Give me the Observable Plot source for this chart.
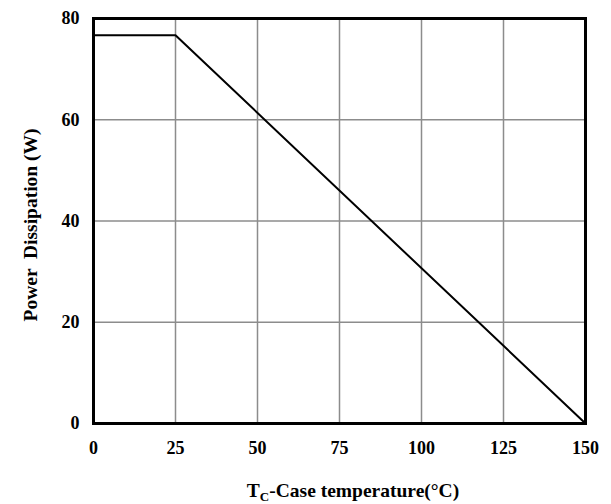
<!DOCTYPE html>
<html>
<head>
<meta charset="utf-8">
<script src="https://cdn.jsdelivr.net/npm/d3@7"></script>
<script src="https://cdn.jsdelivr.net/npm/@observablehq/plot@0.6"></script>
<style>
  html, body { margin: 0; padding: 0; background: #fff; }
  #chart svg { display: block; }
</style>
</head>
<body>
<div id="chart"></div>
<script>
const temperature = [0, 25, 150];
const power = [76.7, 76.7, 0];
const xTicks = [0, 25, 50, 75, 100, 125, 150];
const yTicks = [0, 20, 40, 60, 80];

const data = temperature.map((t, i) => ({t, p: power[i]}));
const W = 611, H = 504;
const mL = 93, mR = 26, mT = 18, mB = 81;
const font = "'Liberation Serif', 'Times New Roman', serif";

const chart = Plot.plot({
  width: W, height: H,
  marginLeft: mL, marginRight: mR, marginTop: mT, marginBottom: mB,
  style: {fontFamily: font, fontSize: "18px", fontWeight: "bold", color: "#000", background: "transparent"},
  x: {domain: [0, 150], ticks: xTicks, label: null},
  y: {domain: [0, 80], ticks: yTicks, label: null},
  marks: [
    Plot.gridX(xTicks, {stroke: "#8c8c8c", strokeOpacity: 1, strokeWidth: 1.5}),
    Plot.gridY(yTicks, {stroke: "#8c8c8c", strokeOpacity: 1, strokeWidth: 1.5}),
    Plot.axisX(xTicks, {tickSize: 0, tickPadding: 18, fontSize: 18, fontWeight: "bold", fill: "#000"}),
    Plot.axisY(yTicks, {tickSize: 0, tickPadding: 14, fontSize: 18, fontWeight: "bold", fill: "#000"}),
    Plot.line(data, {x: "t", y: "p", stroke: "#000", strokeWidth: 2}),
    Plot.frame({stroke: "#000", strokeWidth: 3})
  ]
});
document.getElementById("chart").appendChild(chart);

const svg = d3.select(chart);
// y-axis label
svg.append("text")
  .attr("transform", `translate(33,225) rotate(-90)`)
  .attr("text-anchor", "middle")
  .attr("dominant-baseline", "middle")
  .style("font-family", font).style("font-size", "19.5px").style("font-weight", "bold")
  .style("white-space", "pre")
  .attr("fill", "#000")
  .text("Power  Dissipation (W)");
// x-axis label with subscript
const xl = svg.append("text")
  .attr("x", 353)
  .attr("y", 497)
  .attr("text-anchor", "middle")
  .style("font-family", font).style("font-size", "19.5px").style("font-weight", "bold")
  .attr("fill", "#000");
xl.append("tspan").text("T");
xl.append("tspan").attr("dy", 4).style("font-size", "13px").text("C");
xl.append("tspan").attr("dy", -4).text("-Case temperature(°C)");
</script>
</body>
</html>
